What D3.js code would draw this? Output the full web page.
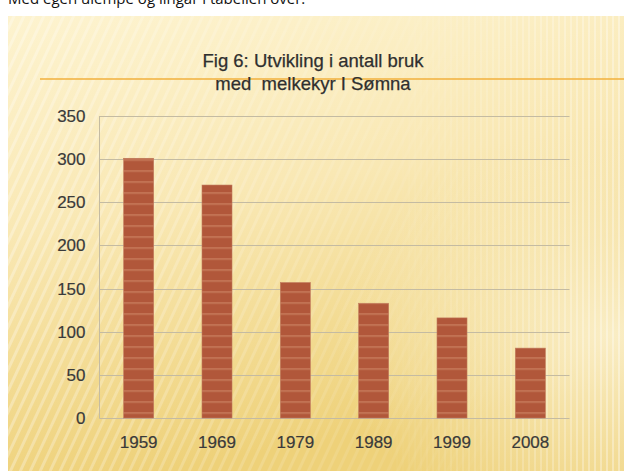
<!DOCTYPE html>
<html>
<head>
<meta charset="utf-8">
<script src="https://cdn.jsdelivr.net/npm/d3@7"></script>
<style>
  html, body { margin: 0; padding: 0; background: #fff; }
  svg { display: block; }
  text { font-family: "Liberation Sans", Arial, sans-serif; }
</style>
</head>
<body>
<div id="chart"></div>
<script>
// data
const years = ['1959', '1969', '1979', '1989', '1999', '2008'];
const farms = [301, 270, 157, 133, 116, 81];
const yTicks = [0, 50, 100, 150, 200, 250, 300, 350];
const titleLines = ['Fig 6: Utvikling i antall bruk', 'med  melkekyr I Sømna'];
const topLine = 'Med egen ulempe og lingar i tabellen over.';

const W = 624, H = 471;
const plot = { left: 99.5, right: 569.5, top: 116, bottom: 418 };

const svg = d3.select('#chart').append('svg')
    .attr('width', W)
    .attr('height', H);

const defs = svg.append('defs');

// slide background
const bg = defs.append('linearGradient')
    .attr('id', 'bgGrad')
    .attr('x1', 0).attr('y1', 0).attr('x2', 0.25).attr('y2', 1);
bg.append('stop').attr('offset', '0%').attr('stop-color', '#fdf3cf');
bg.append('stop').attr('offset', '45%').attr('stop-color', '#f9e8b4');
bg.append('stop').attr('offset', '100%').attr('stop-color', '#eed179');

const glow = defs.append('radialGradient')
    .attr('id', 'glow')
    .attr('cx', 0.98).attr('cy', 0.7).attr('r', 0.45);
glow.append('stop').attr('offset', '0%').attr('stop-color', '#fbf0cc').attr('stop-opacity', 0.9);
glow.append('stop').attr('offset', '100%').attr('stop-color', '#fbf0cc').attr('stop-opacity', 0);

const diag = defs.append('pattern')
    .attr('id', 'diag')
    .attr('patternUnits', 'userSpaceOnUse')
    .attr('width', 9).attr('height', 9)
    .attr('patternTransform', 'rotate(25)');
diag.append('rect')
    .attr('width', 3).attr('height', 9)
    .attr('fill', '#ffffff').attr('opacity', 0.3);

const vert = defs.append('pattern')
    .attr('id', 'vert')
    .attr('patternUnits', 'userSpaceOnUse')
    .attr('width', 6).attr('height', 6);
vert.append('rect')
    .attr('width', 2).attr('height', 6)
    .attr('fill', '#ffffff').attr('opacity', 0.35);

const fadeL = defs.append('linearGradient').attr('id', 'fadeL');
fadeL.append('stop').attr('offset', '0%').attr('stop-color', '#fff').attr('stop-opacity', 0);
fadeL.append('stop').attr('offset', '100%').attr('stop-color', '#fff').attr('stop-opacity', 1);
defs.append('mask').attr('id', 'rightMask')
    .append('rect')
    .attr('x', 380).attr('y', 16).attr('width', 244).attr('height', 455)
    .attr('fill', 'url(#fadeL)');

const fadeR = defs.append('linearGradient').attr('id', 'fadeR');
fadeR.append('stop').attr('offset', '0%').attr('stop-color', '#fff').attr('stop-opacity', 1);
fadeR.append('stop').attr('offset', '100%').attr('stop-color', '#fff').attr('stop-opacity', 0);
defs.append('mask').attr('id', 'leftMask')
    .append('rect')
    .attr('x', 8).attr('y', 16).attr('width', 520).attr('height', 455)
    .attr('fill', 'url(#fadeR)');

// bar fill with light horizontal stripes
const barPat = defs.append('pattern')
    .attr('id', 'barPat')
    .attr('patternUnits', 'userSpaceOnUse')
    .attr('x', 0).attr('y', 0.3)
    .attr('width', 10).attr('height', 11);
barPat.append('rect').attr('width', 10).attr('height', 11).attr('fill', '#b1573a');
barPat.append('rect').attr('y', 5).attr('width', 10).attr('height', 1.4).attr('fill', '#c97e5e');

// line of body text above the slide, cut by the top edge
svg.append('text')
    .attr('x', 8)
    .attr('y', 4)
    .attr('font-size', 15)
    .attr('fill', '#111')
    .style('font-family', '"Open Sans", sans-serif')
    .text(topLine);

svg.append('rect')
    .attr('x', 8).attr('y', 16)
    .attr('width', W - 8).attr('height', H - 16)
    .attr('fill', 'url(#bgGrad)');
svg.append('rect')
    .attr('x', 8).attr('y', 16)
    .attr('width', W - 8).attr('height', H - 16)
    .attr('fill', 'url(#diag)')
    .attr('mask', 'url(#leftMask)');
svg.append('rect')
    .attr('x', 8).attr('y', 16)
    .attr('width', W - 8).attr('height', H - 16)
    .attr('fill', 'url(#glow)');
svg.append('rect')
    .attr('x', 8).attr('y', 16)
    .attr('width', W - 8).attr('height', H - 16)
    .attr('fill', 'url(#vert)')
    .attr('mask', 'url(#rightMask)');

// orange rule
svg.append('line')
    .attr('x1', 40).attr('x2', W)
    .attr('y1', 79).attr('y2', 79)
    .attr('stroke', '#f2b03c')
    .attr('stroke-width', 1.6);

// title
svg.append('g')
    .selectAll('text')
    .data(titleLines)
    .join('text')
    .attr('x', 313)
    .attr('y', (d, i) => 67 + i * 23)
    .attr('text-anchor', 'middle')
    .attr('font-size', 18.5)
    .attr('fill', '#2f2f2f')
    .attr('stroke', '#2f2f2f')
    .attr('stroke-width', 0.25)
    .style('white-space', 'pre')
    .attr('xml:space', 'preserve')
    .text(d => d);

// scales
const x = d3.scaleBand()
    .domain(years)
    .range([plot.left, plot.right])
    .paddingInner(0.617)
    .paddingOuter(0.3085);

const y = d3.scaleLinear()
    .domain([0, 350])
    .range([plot.bottom, plot.top]);

// grid
svg.append('g')
    .selectAll('line')
    .data(yTicks)
    .join('line')
    .attr('x1', plot.left)
    .attr('x2', plot.right)
    .attr('y1', d => Math.round(y(d)) + 0.5)
    .attr('y2', d => Math.round(y(d)) + 0.5)
    .attr('stroke', '#c4bba2')
    .attr('stroke-width', 1);

svg.append('line')
    .attr('x1', plot.left).attr('x2', plot.left)
    .attr('y1', y(350)).attr('y2', y(0) + 0.5)
    .attr('stroke', '#c4bba2');

// bars
svg.append('g')
    .selectAll('rect')
    .data(years.map((yr, i) => ({ yr, v: farms[i] })))
    .join('rect')
    .attr('x', d => x(d.yr))
    .attr('y', d => y(d.v))
    .attr('width', x.bandwidth())
    .attr('height', d => y(0) - y(d.v))
    .attr('fill', 'url(#barPat)')
    .attr('stroke', '#c07a5c')
    .attr('stroke-width', 0.6);

// axes (labels only, like the original)
const styleLabels = g => g.selectAll('text')
    .attr('font-size', 17)
    .attr('fill', '#3a3a3a')
    .attr('stroke', '#3a3a3a')
    .attr('stroke-width', 0.2)
    .style('font-family', '"Liberation Sans", Arial, sans-serif');

const yAxis = d3.axisLeft(y).tickValues(yTicks).tickSize(0).tickPadding(14);
svg.append('g')
    .attr('transform', `translate(${plot.left},0)`)
    .call(yAxis)
    .call(g => g.select('.domain').remove())
    .call(styleLabels);

const xAxis = d3.axisBottom(x).tickSize(0).tickPadding(18);
svg.append('g')
    .attr('transform', `translate(0,${plot.bottom})`)
    .call(xAxis)
    .call(g => g.select('.domain').remove())
    .call(styleLabels);
</script>
</body>
</html>
